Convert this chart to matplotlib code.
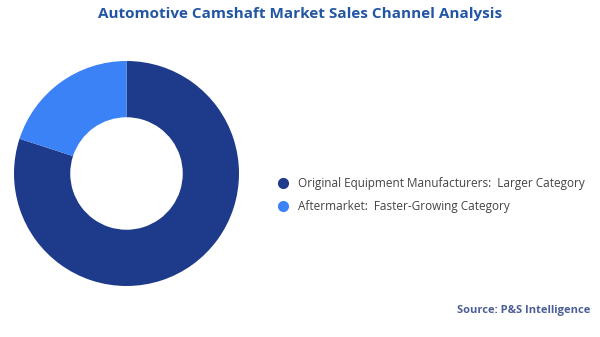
import matplotlib
matplotlib.use("Agg")
import matplotlib.pyplot as plt
from matplotlib.lines import Line2D

# data
segments = ["Original Equipment Manufacturers", "Aftermarket"]
notes = ["Larger Category", "Faster-Growing Category"]
shares = [80, 20]
colors = ["#1E3A8A", "#3B82F6"]

title = "Automotive Camshaft Market Sales Channel Analysis"
source = "Source: P&S Intelligence"

plt.rcParams["font.family"] = ["Open Sans", "DejaVu Sans"]

fig = plt.figure(figsize=(6, 3.37), dpi=100)

# donut
ax = fig.add_axes([14 / 600, 51 / 337, 225 / 600, 225 / 337])
ax.pie(shares, colors=colors, startangle=90, counterclock=False,
       radius=1, wedgeprops=dict(width=0.5, linewidth=0))
ax.set_xlim(-1, 1)
ax.set_ylim(-1, 1)
ax.set_aspect("equal")
ax.axis("off")

# legend
handles = [Line2D([], [], marker="o", linestyle="", markersize=7,
                  markerfacecolor=c, markeredgecolor=c) for c in colors]
labels = [f"{s}:  {n}" for s, n in zip(segments, notes)]
leg = fig.legend(handles, labels, loc="center left",
                 bbox_to_anchor=(272 / 600, 1 - 195 / 337), frameon=False,
                 handletextpad=0.8, labelspacing=0.85, fontsize=8.5,
                 handlelength=1.0, borderaxespad=0)
for t in leg.get_texts():
    t.set_color("#444444")

fig.text(0.5, 1 - 14 / 337, title, ha="center", va="center",
         fontsize=11, fontweight="bold", color="#2255A4")
fig.text(590 / 600, 1 - 311 / 337, source, ha="right", va="center",
         fontsize=8, fontweight="bold", color="#4A5E96")

fig.savefig("out.png", dpi=100)
